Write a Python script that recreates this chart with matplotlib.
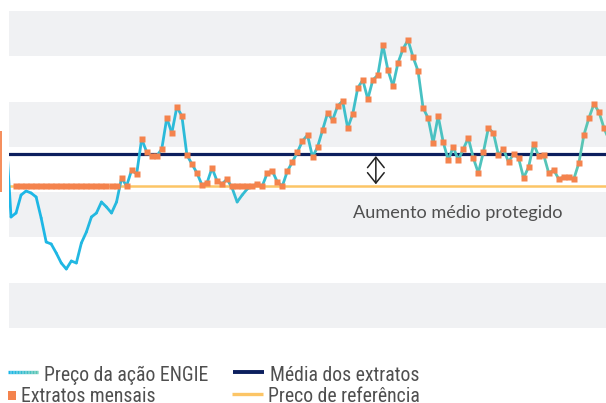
import numpy as np
import matplotlib
matplotlib.use("Agg")
import matplotlib.pyplot as plt
from matplotlib import font_manager
from matplotlib.collections import LineCollection
from matplotlib.colors import LinearSegmentedColormap

# ---------------- data (price units) ----------------
price = [
    19.5, 11.1, 11.5, 13.3, 13.7, 13.5, 13.1, 11.0, 8.6, 8.4,
    7.5, 6.5, 5.9, 6.7, 6.5, 8.5, 9.6, 11.1, 11.5, 12.6,
    12.1, 11.5, 12.6, 15.0, 14.2, 15.8, 15.4, 18.9, 17.6, 17.2,
    17.2, 17.9, 21.0, 19.5, 22.1, 21.2, 17.3, 16.4, 15.5, 14.3,
    14.5, 16.0, 14.7, 14.4, 14.9, 14.0, 12.6, 13.3, 13.9, 14.2,
    14.4, 14.2, 15.5, 15.7, 14.6, 14.2, 15.7, 16.6, 17.6, 18.7,
    19.3, 17.1, 18.1, 19.8, 21.5, 20.8, 22.2, 22.7, 20.0, 21.4,
    24.0, 24.8, 22.9, 24.8, 25.3, 28.3, 25.8, 24.2, 26.5, 27.9,
    28.8, 27.1, 25.7, 22.0, 21.0, 18.5, 21.2, 18.6, 16.8, 18.1,
    16.8, 17.9, 19.0, 17.0, 15.5, 17.6, 20.0, 19.5, 17.3, 17.9,
    16.6, 17.4, 17.0, 15.0, 16.1, 18.4, 17.2, 17.3, 15.5, 15.8,
    14.9, 15.1, 15.1, 14.9, 16.5, 19.3, 21.0, 22.4, 21.6, 20.0,
    18.8,
]
extracts = [
    None, None, 14.2, 14.2, 14.2, 14.2, 14.2, 14.2, 14.2, 14.2,
    14.2, 14.2, 14.2, 14.2, 14.2, 14.2, 14.2, 14.2, 14.2, 14.2,
    14.2, 14.2, 14.2, 15.0, 14.2, 15.8, 15.4, 18.9, 17.6, 17.2,
    17.2, 17.9, 21.0, 19.5, 22.1, 21.2, 17.3, 16.4, 15.5, 14.3,
    14.5, 16.0, 14.7, 14.4, 14.9, 14.2, 14.2, 14.2, 14.2, 14.2,
    14.4, 14.2, 15.5, 15.7, 14.6, 14.2, 15.7, 16.6, 17.6, 18.7,
    19.3, 17.1, 18.1, 19.8, 21.5, 20.8, 22.2, 22.7, 20.0, 21.4,
    24.0, 24.8, 22.9, 24.8, 25.3, 28.3, 25.8, 24.2, 26.5, 27.9,
    28.8, 27.1, 25.7, 22.0, 21.0, 18.5, 21.2, 18.6, 16.8, 18.1,
    16.8, 17.9, 19.0, 17.0, 15.5, 17.6, 20.0, 19.5, 17.3, 17.9,
    16.6, 17.4, 17.0, 15.0, 16.1, 18.4, 17.2, 17.3, 15.5, 15.8,
    14.9, 15.1, 15.1, 14.9, 16.5, 19.3, 21.0, 22.4, 21.6, 20.0,
    None,
]
reference_price = 14.2
average_extract = 17.4
legend_labels = ["Preço da ação ENGIE", "Extratos mensais",
                 "Média dos extratos", "Preco de referência"]
annotation_label = "Aumento médio protegido"

# ---------------- style ----------------
FONT = "Lato"
available = {f.name for f in font_manager.fontManager.ttflist}
LEGFONT = FONT
for cand in ["Roboto Condensed", "Liberation Sans Narrow", "Open Sans Condensed",
             "Noto Sans Condensed", "DejaVu Sans Condensed"]:
    if cand in available:
        LEGFONT = cand
        break

CYAN, TEAL = "#1AB6E8", "#5CC6B2"
ORANGE = "#F4834D"
NAVY = "#0C1F5E"
REFCOL = "#FCC566"
BAND = "#F0F1F3"
TXT = "#4F4F4F"

W, H, DPI = 606, 403, 100
fig = plt.figure(figsize=(W / DPI, H / DPI), dpi=DPI)
fig.patch.set_facecolor("white")

# axes placement (pixels): x 9..606, y 11..328
ax = fig.add_axes([9 / W, (H - 328) / H, 597 / W, 317 / H])
ax.set_axis_off()
ymin, ymax = 0.0, 31.7
ax.set_ylim(ymin, ymax)
ax.set_xlim(0.6, 119.4)

# alternating bands
edges = np.linspace(ymin, ymax, 8)
for k in range(0, 7, 2):
    ax.axhspan(edges[k], edges[k + 1], color=BAND, lw=0, zorder=0)

x = np.arange(len(price))
y = np.array(price, dtype=float)

ax.axhline(reference_price, color=REFCOL, lw=1.8, zorder=1)
ax.axhline(average_extract, color=NAVY, lw=2.3, zorder=2)

# gradient price line
cmap = LinearSegmentedColormap.from_list("g", [CYAN, TEAL])
pts = np.column_stack([x, y])
segs = np.stack([pts[:-1], pts[1:]], axis=1)
lc = LineCollection(segs, colors=cmap(np.linspace(0, 1, len(segs))),
                    linewidths=2.0, zorder=3, capstyle="round", joinstyle="round")
ax.add_collection(lc)

ex = np.array([np.nan if v is None else v for v in extracts], dtype=float)
ax.plot(x, ex, ls="none", marker="s", ms=4.4, mfc=ORANGE, mec="none", zorder=4)

# double arrow between reference and average
ax.annotate("", xy=(73.6, reference_price + 0.17), xytext=(73.6, average_extract - 0.2),
            arrowprops=dict(arrowstyle="<->,head_length=0.75,head_width=0.6",
                            color="#222222", lw=1.1, mutation_scale=10,
                            shrinkA=0, shrinkB=0), zorder=5)

renderer = fig.canvas.get_renderer()


def fit_size(s, target_px, family, base=10.0):
    t = fig.text(0, 0, s, fontsize=base, family=family)
    w = t.get_window_extent(renderer).width
    t.remove()
    return base * target_px / w


ann_size = fit_size(annotation_label, 211, FONT)
ax.text(89.9, 11.5, annotation_label, ha="center", va="center",
        fontsize=ann_size, family=FONT, color=TXT, zorder=5)

# ---------------- legend (overlay in pixel space) ----------------
lg = fig.add_axes([0, 0, 1, 1])
lg.set_xlim(0, W)
lg.set_ylim(H, 0)
lg.set_axis_off()
lg.patch.set_alpha(0)

targets = [162, 133, 150, 152]
sizes = [fit_size(s, t, LEGFONT) for s, t in zip(legend_labels, targets)]
leg_size = min(float(np.mean(sizes)), 14.2)

hx = np.linspace(8, 38, 21)
hsegs = [[(hx[k], 371.5), (hx[k + 1], 371.5)] for k in range(20)]
lg.add_collection(LineCollection(hsegs, colors=cmap(np.linspace(0, 1, 20)), linewidths=2.4))
lg.text(44.5, 381, legend_labels[0], fontsize=leg_size, family=LEGFONT, color=TXT,
        ha="left", va="baseline")

lg.add_patch(plt.Rectangle((7.5, 391), 8, 9, color=ORANGE, lw=0))
lg.text(21, 402.4, legend_labels[1], fontsize=leg_size, family=LEGFONT, color=TXT,
        ha="left", va="baseline")

lg.plot([233, 264], [371.5, 371.5], color=NAVY, lw=2.8, solid_capstyle="butt")
lg.text(269.5, 381, legend_labels[2], fontsize=leg_size, family=LEGFONT, color=TXT,
        ha="left", va="baseline")

lg.plot([232, 263], [393.5, 393.5], color=REFCOL, lw=2.4, solid_capstyle="butt")
lg.text(268.5, 402.4, legend_labels[3], fontsize=leg_size, family=LEGFONT, color=TXT,
        ha="left", va="baseline")

# small orange edge mark on the left
lg.plot([0.7, 0.7], [131, 192], color=ORANGE, lw=1.3, solid_capstyle="butt")

fig.savefig("out.png", dpi=DPI, facecolor="white")
